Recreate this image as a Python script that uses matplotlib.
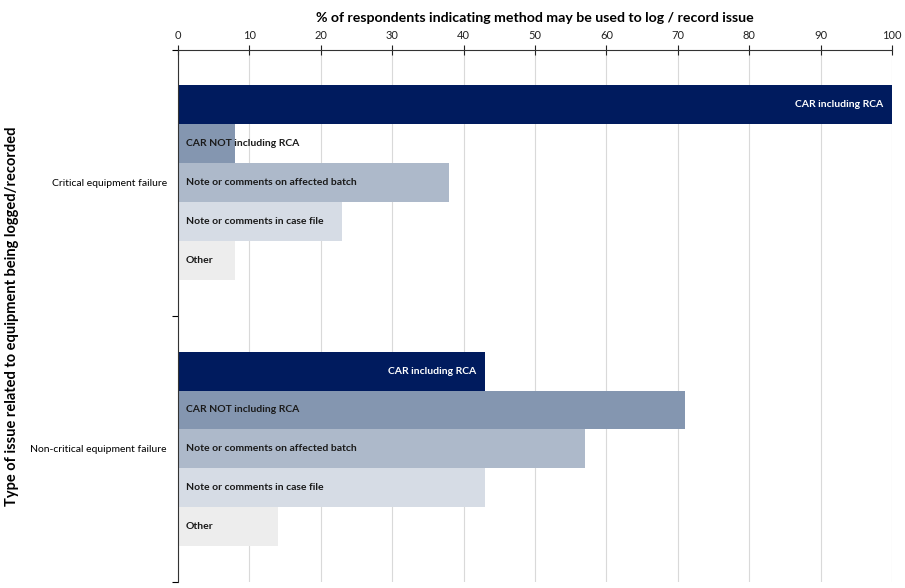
import numpy as np
import matplotlib.pyplot as plt
from matplotlib.ticker import FixedLocator

plt.rcParams['font.family'] = ['Lato', 'DejaVu Sans']

# Datos
categorias = ['Critical equipment failure', 'Non-critical equipment failure']
metodos = ['CAR including RCA', 'CAR NOT including RCA',
           'Note or comments on affected batch',
           'Note or comments in case file', 'Other']
valores = {
    'CAR including RCA': [100, 43],
    'CAR NOT including RCA': [8, 71],
    'Note or comments on affected batch': [38, 57],
    'Note or comments in case file': [23, 43],
    'Other': [8, 14],
}
ticks_x = [0, 10, 20, 30, 40, 50, 60, 70, 80, 90, 100]

colores = ['#001B5E', '#8496B0', '#ADB9CA', '#D6DCE5', '#EDEDED']

fig = plt.figure(figsize=(9.05, 5.88), dpi=100)
ax = fig.add_axes([0.1967, 0.0102, 0.7889, 0.9048])

n = len(metodos)
ancho_grupo = 0.733
h = ancho_grupo / n
base = np.arange(len(categorias))

for j, m in enumerate(metodos):
    y = base - ancho_grupo / 2 + h * (j + 0.5)
    ax.barh(y, valores[m], height=h, color=colores[j], zorder=2)
    for yi, v in zip(y, valores[m]):
        if j == 0:
            # etiqueta blanca alineada a la derecha dentro de la barra oscura
            ax.text(v - 1.2, yi, m, color='white', fontsize=7.5,
                    fontweight='bold', ha='right', va='center', zorder=3)
        else:
            ax.text(1.1, yi, m, color='#1a1a1a', fontsize=7.5,
                    fontweight='bold', ha='left', va='center', zorder=3)

ax.set_xlim(0, 100)
ax.set_ylim(len(categorias) - 0.5, -0.5)

# eje x arriba
ax.xaxis.tick_top()
ax.xaxis.set_label_position('top')
ax.set_xticks(ticks_x)
ax.tick_params(axis='x', direction='inout', length=7, width=0.8,
               labelsize=8, pad=3, colors='#222222')
ax.set_xlabel('% of respondents indicating method may be used to log / record issue',
              fontsize=10.2, fontweight='bold', labelpad=6)

# eje y con marcas en los limites de categoria
ax.set_yticks(base)
ax.set_yticklabels(categorias, fontsize=7.5)
ax.tick_params(axis='y', which='major', length=0, pad=8)
ax.yaxis.set_minor_locator(FixedLocator([-0.5, 0.5, 1.5]))
ax.tick_params(axis='y', which='minor', length=4, direction='out', width=0.8)
ax.set_ylabel('Type of issue related to equipment being logged/recorded',
              fontsize=10.5, fontweight='bold')
ax.yaxis.set_label_coords(-0.223, 0.5)

ax.grid(axis='x', color='#d9d9d9', linewidth=0.8, zorder=0)
ax.set_axisbelow(True)

for s in ['right', 'bottom']:
    ax.spines[s].set_visible(False)
ax.spines['top'].set_color('#333333')
ax.spines['left'].set_color('#333333')

fig.savefig('out.png', dpi=100)
